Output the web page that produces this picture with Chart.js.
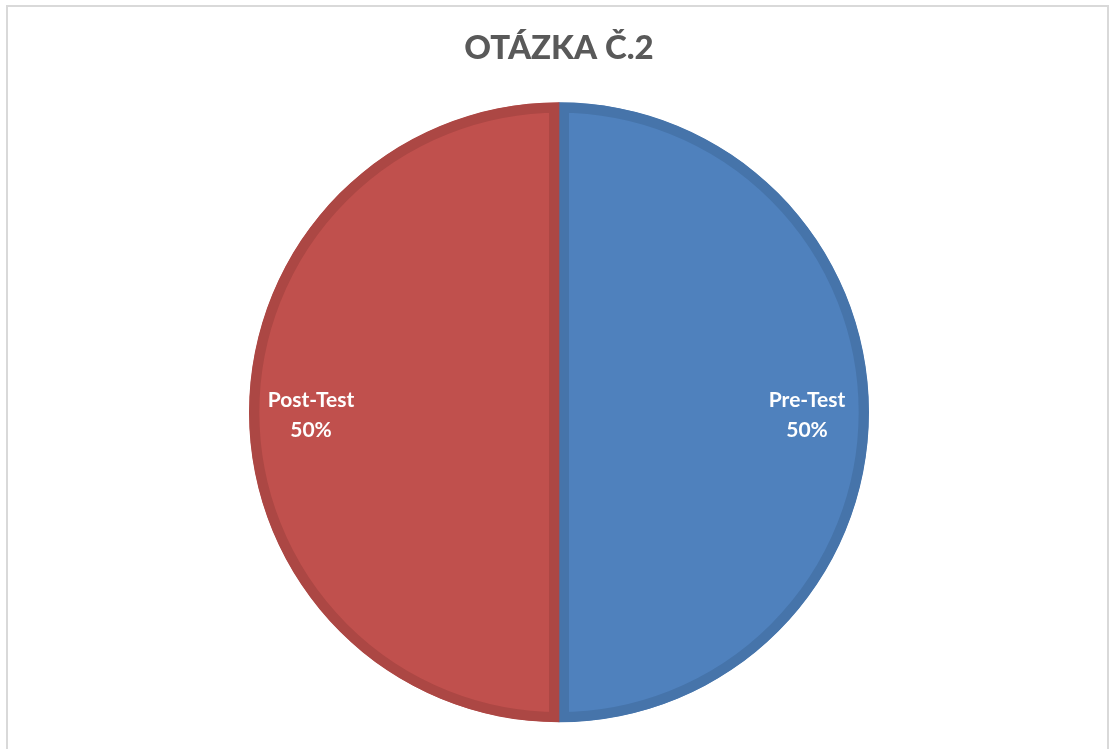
<!DOCTYPE html>
<html>
<head>
<meta charset="utf-8">
<script src="https://cdn.jsdelivr.net/npm/chart.js@4"></script>
<style>
  html, body { margin: 0; padding: 0; background: #fff; overflow: hidden; }
  #wrap { position: relative; width: 1114px; height: 749px; }
  #frame { position: absolute; left: 6px; top: 5px; width: 1103px; height: 760px; border: 2px solid #d9d9d9; box-sizing: border-box; }
  canvas { position: absolute; left: 0; top: 0; }
</style>
</head>
<body>
<div id="wrap">
  <div id="frame"></div>
  <canvas id="myChart" width="1114" height="749"></canvas>
</div>
<script>
const categories = ['Pre-Test', 'Post-Test'];
const values = [50, 50];
const fillColors = ['#4F81BD', '#C0504D'];
const edgeColors = ['#4674AA', '#AC4744'];

// labels drawn inside each slice: name + percent
const sliceLabels = {
    id: 'sliceLabels',
    afterDatasetsDraw(chart) {
        const c = chart.ctx;
        const meta = chart.getDatasetMeta(0);
        const total = values.reduce((a, b) => a + b, 0);
        c.save();
        c.fillStyle = '#ffffff';
        c.font = 'bold 21px Lato, "Open Sans", sans-serif';
        c.textAlign = 'center';
        c.textBaseline = 'middle';
        meta.data.forEach((arc, i) => {
            const p = arc.getProps(['x', 'y', 'startAngle', 'endAngle', 'outerRadius'], true);
            const mid = (p.startAngle + p.endAngle) / 2;
            const r = p.outerRadius * 0.8;
            const x = p.x + Math.cos(mid) * r;
            const y = p.y + Math.sin(mid) * r;
            const pct = Math.round(values[i] / total * 100) + '%';
            c.fillText(categories[i], x, y - 12);
            c.fillText(pct, x, y + 18);
        });
        c.restore();
    }
};

const ctx = document.getElementById('myChart');

new Chart(ctx, {
    type: 'pie',
    data: {
        labels: categories,
        datasets: [{
            data: values,
            backgroundColor: fillColors,
            borderColor: edgeColors,
            borderWidth: 10,
            borderAlign: 'inner',
            hoverOffset: 0,
            radius: 310
        }]
    },
    options: {
        responsive: false,
        animation: false,
        layout: { padding: { left: 4, right: 0, top: 0, bottom: 0 } },
        plugins: {
            legend: { display: false },
            tooltip: { enabled: false },
            title: {
                display: true,
                text: 'OTÁZKA Č.2',
                color: '#595959',
                font: { family: 'Lato, "Open Sans", sans-serif', size: 33, weight: '900' },
                padding: { top: 29, bottom: 7 }
            }
        }
    },
    plugins: [sliceLabels]
});
</script>
</body>
</html>
